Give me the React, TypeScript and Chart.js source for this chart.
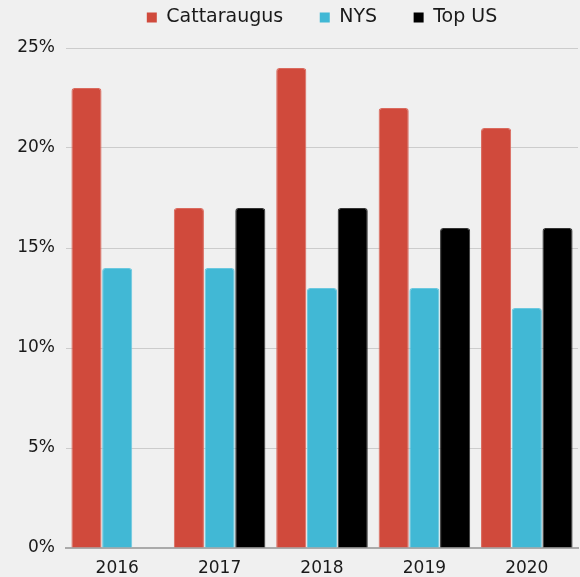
import React, { useEffect, useRef } from "react";
import { Chart, registerables } from "chart.js";

Chart.register(...registerables);

const years = ["2016", "2017", "2018", "2019", "2020"];
const cattaraugus = [23, 17, 24, 22, 21];
const nys = [14, 14, 13, 13, 12];
const topUS = [0, 17, 17, 16, 16];
const yTicks = [0, 5, 10, 15, 20, 25];

const FONT = "'DejaVu Sans', sans-serif";

const legendSpacer = {
  id: "legendSpacer",
  afterInit(chart: any) {
    const lg = chart.legend;
    if (!lg) return;
    const orig = lg.fit;
    lg.fit = function () {
      orig.call(this);
      this.height += 11;
    };
  },
};

export default function App() {
  const ref = useRef<HTMLCanvasElement | null>(null);

  useEffect(() => {
    document.body.style.margin = "0";
    document.body.style.background = "#f0f0f0";
    const ctx = ref.current!;
    const chart = new Chart(ctx, {
      type: "bar",
      data: {
        labels: years,
        datasets: [
          { label: "Cattaraugus", data: cattaraugus, backgroundColor: "#d04a3c", borderColor: "#da6a5e" },
          { label: "NYS", data: nys, backgroundColor: "#41b8d5", borderColor: "#6ac8df" },
          { label: "Top US", data: topUS, backgroundColor: "#000000", borderColor: "#333333" },
        ],
      },
      plugins: [legendSpacer],
      options: {
        animation: false,
        responsive: false,
        maintainAspectRatio: false,
        layout: { padding: { top: 0, right: 2, left: 0, bottom: 0 } },
        datasets: {
          bar: {
            categoryPercentage: 0.9,
            barPercentage: 0.98,
            borderWidth: 1,
            borderRadius: { topLeft: 3, topRight: 3, bottomLeft: 0, bottomRight: 0 },
            borderSkipped: "bottom",
          },
        },
        plugins: {
          legend: {
            position: "top",
            fullSize: false,
            labels: {
              boxWidth: 10,
              boxHeight: 10,
              padding: 8,
              color: "#1a1a1a",
              font: { family: FONT, size: 19 },
              generateLabels: (c: any) => {
                const items = Chart.defaults.plugins.legend.labels.generateLabels(c);
                return items.map((it: any, i: number) => ({
                  ...it,
                  lineWidth: 0,
                  text: i < items.length - 1 ? it.text + "\u2003\u2002" : it.text,
                }));
              },
            },
          },
          tooltip: { enabled: false },
        },
        scales: {
          x: {
            grid: { display: false, drawTicks: false },
            border: { display: true, color: "#aaaaaa", width: 2 },
            ticks: { color: "#1a1a1a", font: { family: FONT, size: 17 }, padding: 10 },
            afterFit: (s: any) => {
              s.height = 29;
            },
          },
          y: {
            min: 0,
            max: 25,
            afterBuildTicks: (s: any) => {
              s.ticks = yTicks.map((v) => ({ value: v }));
            },
            grid: { color: "#cccccc", drawTicks: false, lineWidth: 1 },
            border: { display: false },
            ticks: {
              color: "#1a1a1a",
              font: { family: FONT, size: 17 },
              padding: 11,
              callback: (v: any) => v + "%",
            },
            afterFit: (s: any) => {
              s.width = 66;
            },
          },
        },
      },
    } as any);
    return () => chart.destroy();
  }, []);

  return (
    <div style={{ position: "absolute", left: 0, top: 0, width: 580, height: 577, background: "#f0f0f0" }}>
      <canvas ref={ref} width={580} height={577} style={{ display: "block" }} />
    </div>
  );
}
